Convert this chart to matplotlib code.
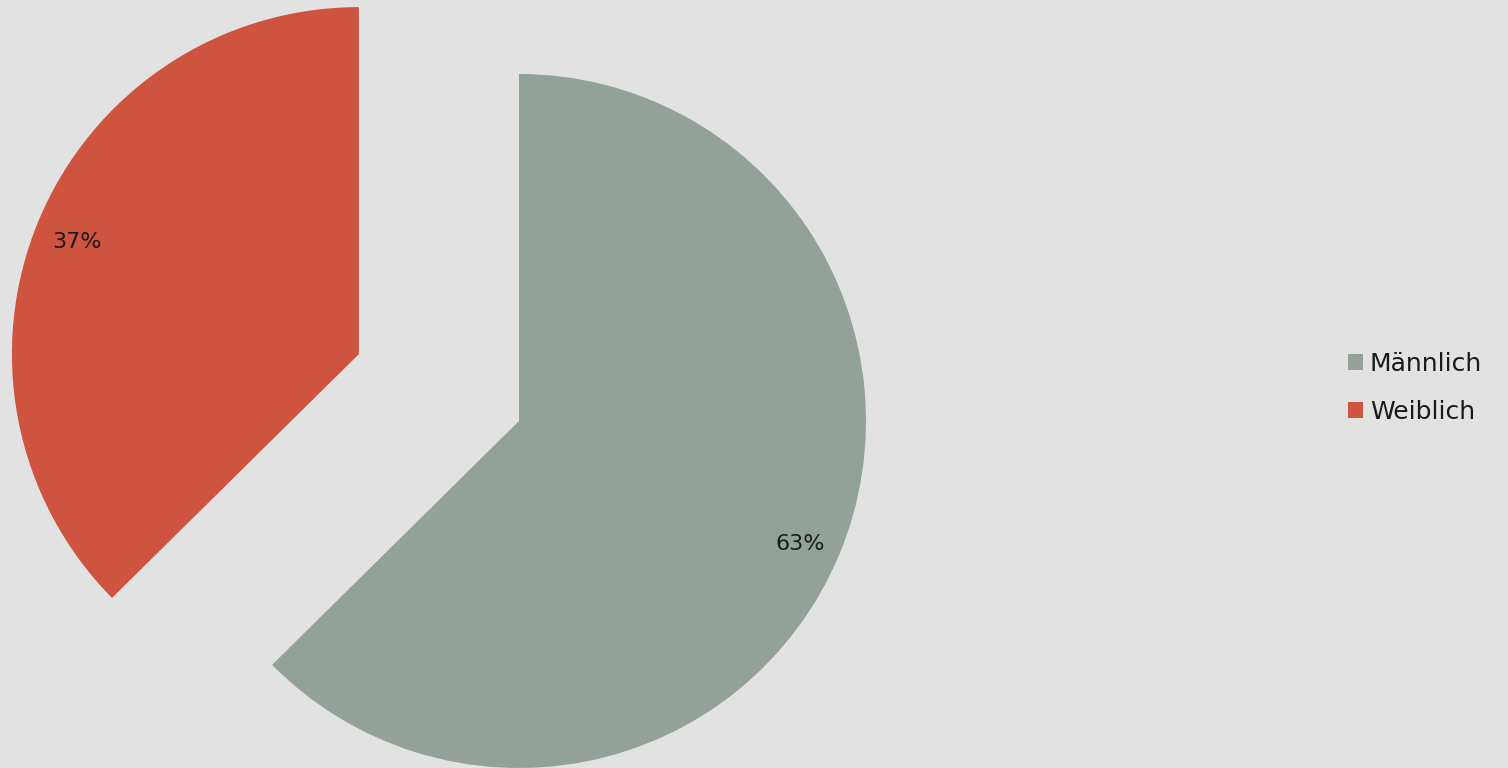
import matplotlib
matplotlib.use("Agg")
import matplotlib.pyplot as plt
from matplotlib.patches import Patch
import math

categories = ["Männlich", "Weiblich"]
values = [62.6, 37.4]
pct_labels = ["63%", "37%"]
colors = ["#93A299", "#CF543F"]
explode = [0.0, 0.5]

W, H = 1508, 768
fig = plt.figure(figsize=(W / 100, H / 100), dpi=100)
fig.patch.set_facecolor("#E2E2E2")
ax = fig.add_axes([0, 0, 1, 1])
ax.set_facecolor("#E2E2E2")

R = 347.0
cx, cy = 519.0, 421.0

font = "DejaVu Sans"
wedges, texts = ax.pie(values, colors=colors, startangle=90, counterclock=False,
                       explode=explode, radius=1.0, center=(0, 0), frame=True)
ax.set_xlim(-cx / R, (W - cx) / R)
ax.set_ylim(-(H - cy) / R, cy / R)
ax.set_aspect("equal")
ax.axis("off")

theta = 90.0
for i, (v, lab) in enumerate(zip(values, pct_labels)):
    span = 360.0 * v / sum(values)
    mid = math.radians(theta - span / 2)
    ox = explode[i] * math.cos(mid)
    oy = explode[i] * math.sin(mid)
    d = 0.88
    ax.text(ox + d * math.cos(mid), oy + d * math.sin(mid) - 0.015, lab,
            ha="center", va="center", fontsize=16, family=font, color="#1a1a1a")
    theta -= span

handles = [Patch(facecolor=c, edgecolor="none") for c in colors]
leg = fig.legend(handles, categories, loc="center left",
                 bbox_to_anchor=(1348 / W, 1 - 388 / H), frameon=False,
                 prop={"family": font, "size": 18}, handlelength=0.6,
                 handleheight=0.6, handletextpad=0.28, labelspacing=0.95,
                 borderpad=0, borderaxespad=0)
for t in leg.get_texts():
    t.set_color("#1a1a1a")

fig.savefig("out.png", dpi=100, facecolor=fig.get_facecolor())
